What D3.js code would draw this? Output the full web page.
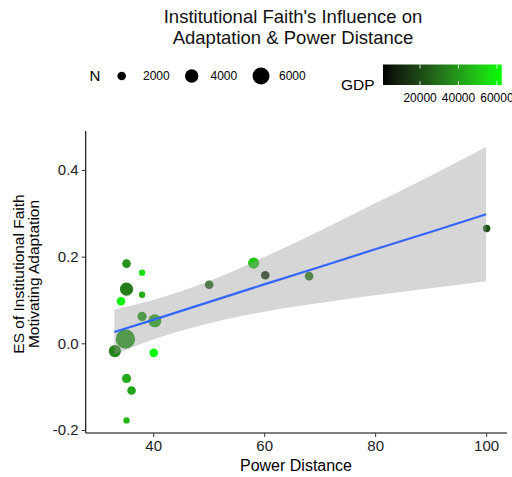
<!DOCTYPE html>
<html>
<head>
<meta charset="utf-8">
<script src="https://cdn.jsdelivr.net/npm/d3@7"></script>
<style>
  body { margin: 0; background: #fff; }
  text { font-family: "Liberation Sans", Arial, sans-serif; }
</style>
</head>
<body>
<svg id="chart" width="512" height="477"></svg>
<script>
// data
const powerDistance = [35.2, 38, 35.2, 38, 34.2, 38, 40.3, 35, 33.1, 40.1, 35.2, 36.1, 35.2, 50.1, 58.1, 60.2, 68.1, 100.1];
const effectSize = [0.184, 0.163, 0.125, 0.112, 0.097, 0.062, 0.052, 0.010, -0.018, -0.022, -0.081, -0.109, -0.178, 0.135, 0.185, 0.157, 0.155, 0.265];
const sampleN = [2000, 1300, 3900, 1300, 2000, 2200, 3900, 7500, 3500, 2000, 2200, 2000, 1300, 2000, 3000, 2000, 2000, 1600];
const gdp = [38000, 55000, 33000, 45000, 60000, 40000, 42000, 40000, 35000, 62000, 44000, 42000, 46000, 28000, 50000, 16000, 32000, 22000];

// fitted line with its confidence band
const fitX = [33, 40, 50, 60, 70, 80, 90, 100];
const fitY = [0.026, 0.054, 0.095, 0.136, 0.176, 0.217, 0.257, 0.298];
const fitLo = [-0.026, 0.009, 0.046, 0.073, 0.093, 0.111, 0.127, 0.143];
const fitHi = [0.078, 0.100, 0.143, 0.199, 0.259, 0.323, 0.387, 0.453];

const xTicks = [40, 60, 80, 100];
const yTicks = [-0.2, 0.0, 0.2, 0.4];
const sizeBreaks = [2000, 4000, 6000];
const gdpBreaks = [20000, 40000, 60000];
const gdpRange = [700, 62500];

const svg = d3.select("#chart");
const plot = { left: 85.7, right: 507, top: 131, bottom: 433 };

const x = d3.scaleLinear().domain([27.84, 103.76]).range([plot.left, plot.right]);
const y = d3.scaleLinear().domain([-0.207, 0.49]).range([plot.bottom, plot.top]);
const r = d3.scaleSqrt().domain([2000, 6000]).range([4.3, 8.5]);
const color = d3.scaleLinear().domain(gdpRange).range(["#000000", "#00ff00"]).interpolate(d3.interpolateLab);

const points = powerDistance.map((d, i) => ({ pd: d, es: effectSize[i], n: sampleN[i], gdp: gdp[i] }));
const fit = fitX.map((d, i) => ({ x: d, y: fitY[i], lo: fitLo[i], hi: fitHi[i] }));

// points
svg.append("g")
  .selectAll("circle")
  .data(points)
  .join("circle")
  .attr("cx", d => x(d.pd))
  .attr("cy", d => y(d.es))
  .attr("r", d => r(d.n))
  .attr("fill", d => color(d.gdp));

// smooth band + line
svg.append("path")
  .datum(fit)
  .attr("d", d3.area().x(d => x(d.x)).y0(d => y(d.lo)).y1(d => y(d.hi)).curve(d3.curveMonotoneX))
  .attr("fill", "#999999")
  .attr("fill-opacity", 0.4);

svg.append("path")
  .datum(fit)
  .attr("d", d3.line().x(d => x(d.x)).y(d => y(d.y)))
  .attr("fill", "none")
  .attr("stroke", "#3366ff")
  .attr("stroke-width", 2.2);

// axes
const xAxis = svg.append("g")
  .attr("transform", `translate(0,${plot.bottom})`)
  .call(d3.axisBottom(x).tickValues(xTicks).tickSize(4).tickPadding(3).tickSizeOuter(0));
const yAxis = svg.append("g")
  .attr("transform", `translate(${plot.left},0)`)
  .call(d3.axisLeft(y).tickValues(yTicks).tickSize(4).tickPadding(3).tickSizeOuter(0).tickFormat(d => d.toFixed(1)));

[xAxis, yAxis].forEach(a => {
  a.select(".domain").attr("stroke", "#000").attr("stroke-width", 1.1);
  a.selectAll(".tick line").attr("stroke", "#333");
  a.selectAll(".tick text").attr("fill", "#222").style("font-size", "15px");
});
xAxis.select(".domain").attr("d", `M${plot.left},0H${plot.right}`);
yAxis.select(".domain").attr("d", `M0,${plot.top}V${plot.bottom}`);

// axis titles
svg.append("text")
  .attr("x", 296).attr("y", 471)
  .attr("text-anchor", "middle")
  .style("font-size", "16px")
  .text("Power Distance");

const yTitle = svg.append("text")
  .attr("transform", "translate(24,274) rotate(-90)")
  .attr("text-anchor", "middle")
  .style("font-size", "15.5px");
yTitle.append("tspan").attr("x", 0).attr("dy", 0).text("ES of Institutional Faith");
yTitle.append("tspan").attr("x", 0).attr("dy", 15).text("Motivating Adaptation");

// title
const title = svg.append("text")
  .attr("x", 293).attr("y", 23)
  .attr("text-anchor", "middle")
  .style("font-size", "18.5px")
  .attr("fill", "#111");
title.append("tspan").attr("x", 293).text("Institutional Faith's Influence on");
title.append("tspan").attr("x", 293).attr("dy", 21).text("Adaptation & Power Distance");

// size legend
const sizeLegend = svg.append("g");
sizeLegend.append("text")
  .attr("x", 95).attr("y", 76).attr("dy", "0.35em")
  .attr("text-anchor", "middle")
  .style("font-size", "15px")
  .text("N");
const sizeX = [121.7, 191.7, 261];
const sizeLabX = [143, 210.5, 279];
sizeLegend.selectAll("circle")
  .data(sizeBreaks)
  .join("circle")
  .attr("cx", (d, i) => sizeX[i])
  .attr("cy", 76)
  .attr("r", d => r(d))
  .attr("fill", "#000");
sizeLegend.selectAll("text.lab")
  .data(sizeBreaks)
  .join("text")
  .attr("class", "lab")
  .attr("x", (d, i) => sizeLabX[i])
  .attr("y", 76).attr("dy", "0.35em")
  .style("font-size", "12px")
  .text(d => d);

// colour legend
const barX = d3.scaleLinear().domain(gdpRange).range([383, 501.7]);
const defs = svg.append("defs");
const grad = defs.append("linearGradient").attr("id", "gdpGrad");
d3.range(0, 1.0001, 0.1).forEach(t => {
  grad.append("stop")
    .attr("offset", t)
    .attr("stop-color", color(gdpRange[0] + t * (gdpRange[1] - gdpRange[0])));
});
const barTop = 64.5, barH = 20.5;
svg.append("rect")
  .attr("x", barX(gdpRange[0])).attr("y", barTop)
  .attr("width", barX(gdpRange[1]) - barX(gdpRange[0])).attr("height", barH)
  .attr("fill", "url(#gdpGrad)");
gdpBreaks.forEach(b => {
  svg.append("line").attr("x1", barX(b)).attr("x2", barX(b))
    .attr("y1", barTop).attr("y2", barTop + 4).attr("stroke", "#fff").attr("stroke-opacity", 0.8);
  svg.append("line").attr("x1", barX(b)).attr("x2", barX(b))
    .attr("y1", barTop + barH - 4).attr("y2", barTop + barH).attr("stroke", "#fff").attr("stroke-opacity", 0.8);
});
svg.append("g").selectAll("text")
  .data(gdpBreaks)
  .join("text")
  .attr("x", d => barX(d))
  .attr("y", 98).attr("dy", "0.35em")
  .attr("text-anchor", "middle")
  .style("font-size", "12px")
  .text(d => d);
svg.append("text")
  .attr("x", 341).attr("y", 85).attr("dy", "0.35em")
  .style("font-size", "15.5px")
  .text("GDP");
</script>
</body>
</html>
